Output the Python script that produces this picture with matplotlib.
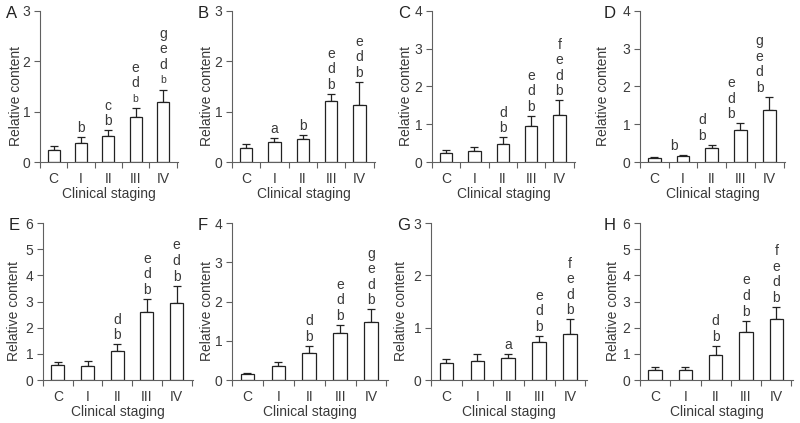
import matplotlib
matplotlib.use("Agg")
import matplotlib.pyplot as plt

stages = ["C", "I", "II", "III", "IV"]

a_mean = [0.24, 0.375, 0.51, 0.89, 1.2]
a_err = [0.08, 0.115, 0.12, 0.19, 0.24]
a_letters = ["", "b", "bc", "bde", "bdeg"]

b_mean = [0.28, 0.39, 0.45, 1.21, 1.14]
b_err = [0.08, 0.08, 0.09, 0.14, 0.45]
b_letters = ["", "a", "b", "bde", "bde"]

c_mean = [0.24, 0.28, 0.48, 0.96, 1.25]
c_err = [0.09, 0.11, 0.18, 0.26, 0.38]
c_letters = ["", "", "bd", "bde", "bdef"]

d_mean = [0.1, 0.16, 0.37, 0.84, 1.37]
d_err = [0.03, 0.03, 0.09, 0.18, 0.36]
d_letters = ["", "b", "bd", "bde", "bdeg"]

e_mean = [0.57, 0.55, 1.1, 2.59, 2.95]
e_err = [0.13, 0.18, 0.27, 0.51, 0.66]
e_letters = ["", "", "bd", "bde", "bde"]

f_mean = [0.15, 0.35, 0.70, 1.21, 1.48]
f_err = [0.04, 0.10, 0.17, 0.19, 0.32]
f_letters = ["", "", "bd", "bde", "bdeg"]

g_mean = [0.32, 0.37, 0.42, 0.73, 0.88]
g_err = [0.08, 0.12, 0.08, 0.11, 0.28]
g_letters = ["", "", "a", "bde", "bdef"]

h_mean = [0.37, 0.37, 0.97, 1.84, 2.32]
h_err = [0.13, 0.13, 0.33, 0.43, 0.48]
h_letters = ["", "", "bd", "bde", "bdef"]

TXT = "#3a3a3a"
AX = "#606060"

plt.rcParams["font.family"] = ["Liberation Sans", "DejaVu Sans"]
plt.rcParams["font.size"] = 10

W, H = 800, 423
fig = plt.figure(figsize=(8.0, 4.23), dpi=100)

# panel: name, data, letters, ymax, box in pixels (left, right, top, bottom), ylabel offset px
panels = [
    ("A", a_mean, a_err, a_letters, 3, (40, 178, 11, 162), 17, 0.0),
    ("B", b_mean, b_err, b_letters, 3, (232, 375, 11, 162), 18, 0.0),
    ("C", c_mean, c_err, c_letters, 4, (432, 575, 11, 162), 19, 0.0),
    ("D", d_mean, d_err, d_letters, 4, (640, 785, 11, 162), 30, -0.33),
    ("E", e_mean, e_err, e_letters, 6, (43, 193, 223, 380), 22, 0.0),
    ("F", f_mean, f_err, f_letters, 4, (232, 388, 223, 380), 18, 0.0),
    ("G", g_mean, g_err, g_letters, 3, (431, 587, 223, 380), 23, 0.0),
    ("H", h_mean, h_err, h_letters, 6, (640, 793, 223, 380), 20, 0.0),
]

for name, mean, err, letters, ymax, box, ylab_off, let_dx in panels:
    l, r, t, b = box
    ax = fig.add_axes([l / W, 1 - b / H, (r - l) / W, (b - t) / H])
    x = list(range(len(stages)))
    ax.bar(x, mean, width=0.44, color="white", edgecolor="#222222", linewidth=0.9, zorder=2)
    ax.errorbar(x, mean, yerr=[[0] * len(err), err], fmt="none", ecolor="#222222",
                elinewidth=0.9, capsize=3, capthick=0.9, zorder=1)
    ax.set_xlim(-0.5, 4.55)
    ax.set_ylim(0, ymax)
    ax.set_yticks(range(ymax + 1))
    ax.set_xticks(x)
    ax.set_xticklabels(stages)
    ax.set_xticks([i - 0.5 for i in range(len(stages) + 1)], minor=True)
    ax.tick_params(axis="x", which="major", length=0, pad=7, colors=TXT, labelsize=10)
    ax.tick_params(axis="x", which="minor", length=4, width=0.8, color=AX, direction="out")
    ax.tick_params(axis="y", length=4, width=0.8, color=AX, labelcolor=TXT, labelsize=10, pad=3)
    for s in ["top", "right"]:
        ax.spines[s].set_visible(False)
    for s in ["left", "bottom"]:
        ax.spines[s].set_color(AX)
        ax.spines[s].set_linewidth(0.8)
    ax.set_xlabel("Clinical staging", color=TXT, fontsize=10, labelpad=1)
    ax.set_ylabel("Relative content", color=TXT, fontsize=10)
    ax.yaxis.set_label_coords(-ylab_off / (r - l), 0.44)

    for i, lets in enumerate(letters):
        top = mean[i] + err[i]
        for k, ch in enumerate(lets):
            small = name == "A" and i >= 3 and ch == "b"
            ax.annotate(ch, (i + let_dx, top), xytext=(0, 6.5 + 11.2 * k),
                        textcoords="offset points", ha="center", va="center",
                        color=TXT, fontsize=7.5 if small else 10, annotation_clip=False)

    fig.text((l - 34) / W if name not in ("D", "H") else (l - 36) / W,
             1 - (t + 2) / H, name, fontsize=12, color="#222222", va="center", ha="left")

fig.savefig("out.png", dpi=100, facecolor="white")
